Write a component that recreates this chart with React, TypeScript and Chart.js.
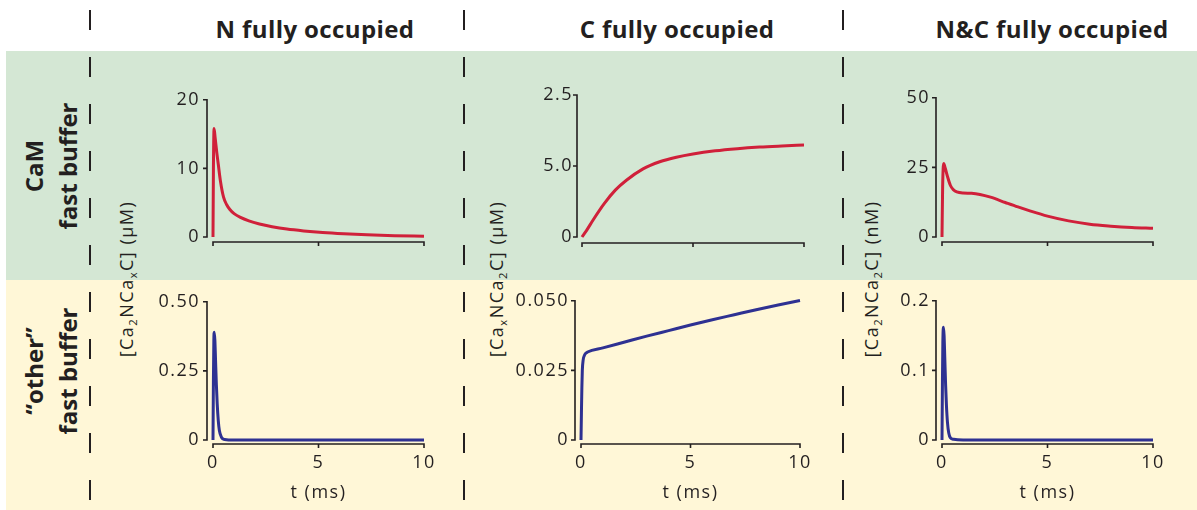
import React, { useEffect, useRef } from 'react';
import { Chart, registerables } from 'chart.js';

Chart.register(...registerables);

// ---------- data ----------
const columnTitles = ['N fully occupied', 'C fully occupied', 'N&C fully occupied'];
const rowTitles = [['CaM', 'fast buffer'], ['\u201Cother\u201D', 'fast buffer']];
const timeTicks = [0, 5, 10];
const timeTickLabels = ['0', '5', '10'];
const xAxisTitle = 't (ms)';

// CaM fast buffer, N fully occupied  (µM)
const camNTime = [0, 0.02, 0.05, 0.1, 0.18, 0.25, 0.35, 0.5, 0.65, 0.8, 1.0, 1.3, 1.7, 2.2, 2.8, 3.5, 4.3, 5.2, 6.2, 7.3, 8.6, 10];
const camNValues = [0, 10, 15.8, 14.5, 12.3, 10.6, 8.2, 5.8, 4.7, 4.0, 3.4, 2.85, 2.35, 1.9, 1.5, 1.15, 0.88, 0.65, 0.47, 0.32, 0.2, 0.12];
const camNYTicks = [0, 10, 20];
const camNYTickLabels = ['0', '10', '20'];

// CaM fast buffer, C fully occupied  (µM)
const camCTime = [0, 0.2, 0.5, 1.0, 1.5, 2.0, 2.75, 3.5, 4.25, 5, 6, 7, 8, 9, 10];
const camCValues = [0, 0.45, 1.2, 2.35, 3.3, 4.0, 4.8, 5.3, 5.62, 5.85, 6.07, 6.22, 6.33, 6.41, 6.48];
const camCYTicks = [0, 5, 10];
const camCYTickLabels = ['0', '5.0', '2.5'];

// CaM fast buffer, N&C fully occupied  (nM)
const camNCTime = [0, 0.03, 0.08, 0.15, 0.25, 0.4, 0.55, 0.7, 1.0, 1.4, 1.8, 2.3, 3.0, 3.6, 4.2, 5.0, 6.0, 7.0, 8.0, 9.0, 10];
const camNCValues = [0, 18, 26.4, 24.8, 22, 18.5, 16.9, 16.2, 15.8, 15.7, 15.3, 14.3, 12.4, 10.8, 9.3, 7.5, 5.8, 4.6, 3.9, 3.4, 3.1];
const camNCYTicks = [0, 25, 50];
const camNCYTickLabels = ['0', '25', '50'];

// "other" fast buffer, N fully occupied
const othNTime = [0, 0.02, 0.04, 0.06, 0.09, 0.12, 0.16, 0.2, 0.25, 0.3, 0.4, 0.55, 1, 2, 5, 10];
const othNValues = [0, 0.22, 0.36, 0.39, 0.36, 0.29, 0.2, 0.13, 0.07, 0.035, 0.01, 0.002, 0, 0, 0, 0];
const othNYTicks = [0, 0.25, 0.5];
const othNYTickLabels = ['0', '0.25', '0.50'];

// "other" fast buffer, C fully occupied
const othCTime = [0, 0.02, 0.04, 0.06, 0.1, 0.15, 0.2, 0.3, 1, 2, 3, 4, 5, 6, 7, 8, 9, 10];
const othCValues = [0, 0.01, 0.019, 0.025, 0.0288, 0.0303, 0.031, 0.0316, 0.0331, 0.0352, 0.0373, 0.0393, 0.0413, 0.0432, 0.045, 0.0468, 0.0485, 0.0501];
const othCYTicks = [0, 0.025, 0.05];
const othCYTickLabels = ['0', '0.025', '0.050'];

// "other" fast buffer, N&C fully occupied
const othNCTime = [0, 0.02, 0.04, 0.07, 0.1, 0.13, 0.17, 0.21, 0.26, 0.32, 0.4, 0.55, 1, 2, 5, 10];
const othNCValues = [0, 0.08, 0.14, 0.162, 0.15, 0.12, 0.08, 0.05, 0.025, 0.01, 0.003, 0.001, 0, 0, 0, 0];
const othNCYTicks = [0, 0.1, 0.2];
const othNCYTickLabels = ['0', '0.1', '0.2'];

// ---------- style ----------
const FONT = '"Open Sans", "DejaVu Sans", sans-serif';
const INK = '#231f20';
const RED = '#d0203a';
const BLUE = '#2e3192';
const GREEN_BG = '#d4e7d4';
const YELLOW_BG = '#fff7d7';
const TEXT_SPACING = '1.5px';

const spacing = {
  id: 'spacing',
  beforeUpdate(chart: any) {
    chart.ctx.letterSpacing = TEXT_SPACING;
  },
  beforeDraw(chart: any) {
    chart.ctx.letterSpacing = TEXT_SPACING;
  },
};

const detachedAxes = {
  id: 'detachedAxes',
  beforeDatasetsDraw(chart: any, _a: any, opts: any) {
    const { ctx } = chart;
    const xs = chart.scales.x;
    const ys = chart.scales.y;
    const xT: number[] = opts.xTicks;
    const yT: number[] = opts.yTicks;
    const left = xs.getPixelForValue(xT[0]);
    const right = xs.getPixelForValue(xT[xT.length - 1]);
    const bottom = ys.getPixelForValue(yT[0]);
    const top = ys.getPixelForValue(yT[yT.length - 1]);
    const ax = left - opts.yGap;
    const ay = bottom + opts.xGap;
    ctx.save();
    ctx.strokeStyle = INK;
    ctx.lineWidth = 1.6;
    ctx.beginPath();
    ctx.moveTo(ax, top - 0.8);
    ctx.lineTo(ax, bottom + 0.8);
    yT.forEach((v) => {
      const py = ys.getPixelForValue(v);
      ctx.moveTo(ax + 0.8, py);
      ctx.lineTo(ax - 4, py);
    });
    ctx.moveTo(left - 0.8, ay);
    ctx.lineTo(right + 0.8, ay);
    xT.forEach((v) => {
      const px = xs.getPixelForValue(v);
      ctx.moveTo(px, ay - 0.8);
      ctx.lineTo(px, ay + 4);
    });
    ctx.stroke();
    ctx.restore();
  },
};

type PanelProps = {
  time: number[];
  values: number[];
  color: string;
  yTicks: number[];
  yTickLabels: string[];
  showX: boolean;
  box: { x0: number; x1: number; yTop: number; y0: number };
  labelPad: number;
  yGap: number;
  xGap: number;
};

const PAD_L = 90;
const PAD_T = 20;
const PAD_R = 25;
const PAD_B = 70;

function Panel(p: PanelProps) {
  const ref = useRef<HTMLCanvasElement | null>(null);
  const w = p.box.x1 - p.box.x0 + PAD_L + PAD_R;
  const h = p.box.y0 - p.box.yTop + PAD_T + PAD_B;
  useEffect(() => {
    if (!ref.current) return;
    const tickFont = { family: FONT, size: 18 };
    const chart = new Chart(ref.current, {
      type: 'line',
      data: {
        datasets: [
          {
            data: p.time.map((t, i) => ({ x: t, y: p.values[i] })),
            borderColor: p.color,
            borderWidth: 3,
            pointRadius: 0,
            fill: false,
            cubicInterpolationMode: 'monotone',
            clip: false,
          } as any,
        ],
      },
      options: {
        animation: false,
        responsive: false,
        maintainAspectRatio: false,
        devicePixelRatio: 1,
        layout: { padding: { left: 0, top: PAD_T, right: PAD_R, bottom: 0 } },
        plugins: {
          legend: { display: false },
          tooltip: { enabled: false },
          detachedAxes: { xTicks: timeTicks, yTicks: p.yTicks, yGap: p.yGap, xGap: p.xGap },
        } as any,
        scales: {
          x: {
            type: 'linear',
            min: timeTicks[0],
            max: timeTicks[timeTicks.length - 1],
            afterBuildTicks: (s: any) => {
              s.ticks = timeTicks.map((v) => ({ value: v }));
            },
            afterFit: (s: any) => {
              s.height = PAD_B;
            },
            grid: { display: false, drawTicks: false },
            border: { display: false },
            ticks: {
              display: p.showX,
              padding: 12,
              maxRotation: 0,
              autoSkip: false,
              font: tickFont,
              color: INK,
              callback: (_v: any, i: number) => timeTickLabels[i],
            },
            title: {
              display: p.showX,
              text: xAxisTitle,
              font: tickFont,
              color: INK,
              padding: { top: 0, bottom: 6 },
            },
          },
          y: {
            type: 'linear',
            min: p.yTicks[0],
            max: p.yTicks[p.yTicks.length - 1],
            afterBuildTicks: (s: any) => {
              s.ticks = p.yTicks.map((v) => ({ value: v }));
            },
            afterFit: (s: any) => {
              s.width = PAD_L;
            },
            grid: { display: false, drawTicks: false },
            border: { display: false },
            ticks: {
              padding: p.labelPad,
              autoSkip: false,
              font: tickFont,
              color: INK,
              callback: (_v: any, i: number) => p.yTickLabels[i],
            },
          },
        } as any,
      },
      plugins: [spacing as any, detachedAxes as any],
    });
    return () => chart.destroy();
  }, []);
  return (
    <canvas
      ref={ref}
      width={w}
      height={h}
      style={{ position: 'absolute', left: p.box.x0 - PAD_L, top: p.box.yTop - PAD_T, width: w, height: h }}
    />
  );
}

function RotLabel({ cx, cy, children, style }: any) {
  return (
    <div
      style={{
        position: 'absolute',
        left: cx,
        top: cy,
        transform: 'translate(-50%, -50%) rotate(-90deg)',
        whiteSpace: 'nowrap',
        textAlign: 'center',
        color: INK,
        fontFamily: FONT,
        ...style,
      }}
    >
      {children}
    </div>
  );
}

const subStyle: React.CSSProperties = { fontSize: '0.62em', lineHeight: 0, verticalAlign: '-0.35em' };
const axisLabelStyle = { fontSize: 18, lineHeight: '18px', letterSpacing: TEXT_SPACING };

export default function App() {
  const dashXs = [89.5, 463.5, 842.5];
  const titleXs = [315, 677, 1052];
  return (
    <div
      style={{
        position: 'absolute',
        left: 0,
        top: 0,
        width: 1197,
        height: 510,
        overflow: 'hidden',
        background: '#ffffff',
        fontFamily: FONT,
      }}
    >
      <div style={{ position: 'absolute', left: 6, top: 51, width: 1191, height: 229, background: GREEN_BG }} />
      <div style={{ position: 'absolute', left: 6, top: 280, width: 1191, height: 230, background: YELLOW_BG }} />
      {dashXs.map((x, i) => (
        <div
          key={i}
          style={{
            position: 'absolute',
            left: x - 1,
            top: 10,
            width: 2,
            height: 500,
            background: `repeating-linear-gradient(to bottom, ${INK} 0px, ${INK} 20px, transparent 20px, transparent 47px)`,
          }}
        />
      ))}
      {columnTitles.map((t, i) => (
        <div
          key={i}
          style={{
            position: 'absolute',
            left: titleXs[i],
            top: 17,
            transform: 'translateX(-50%)',
            fontSize: 24,
            lineHeight: '24px',
            letterSpacing: '0.4px',
            fontWeight: 700,
            whiteSpace: 'nowrap',
            color: INK,
          }}
        >
          {t}
        </div>
      ))}
      {rowTitles.map((lines, i) => (
        <RotLabel key={i} cx={51} cy={i === 0 ? 166 : 371} style={{ fontSize: 24, fontWeight: 700, lineHeight: '34px' }}>
          {lines[0]}
          <br />
          {lines[1]}
        </RotLabel>
      ))}
      <RotLabel cx={126} cy={279} style={axisLabelStyle}>
        [Ca<sub style={subStyle}>2</sub>NCa<sub style={subStyle}>x</sub>C] (µM)
      </RotLabel>
      <RotLabel cx={496} cy={279} style={axisLabelStyle}>
        [Ca<sub style={subStyle}>x</sub>NCa<sub style={subStyle}>2</sub>C] (µM)
      </RotLabel>
      <RotLabel cx={871} cy={279} style={axisLabelStyle}>
        [Ca<sub style={subStyle}>2</sub>NCa<sub style={subStyle}>2</sub>C] (nM)
      </RotLabel>

      <Panel time={camNTime} values={camNValues} color={RED} yTicks={camNYTicks} yTickLabels={camNYTickLabels}
        showX={false} box={{ x0: 213, x1: 424, yTop: 96, y0: 237 }} labelPad={13} yGap={6} xGap={5} />
      <Panel time={camCTime} values={camCValues} color={RED} yTicks={camCYTicks} yTickLabels={camCYTickLabels}
        showX={false} box={{ x0: 582, x1: 804, yTop: 95, y0: 237 }} labelPad={9} yGap={5} xGap={6} />
      <Panel time={camNCTime} values={camNCValues} color={RED} yTicks={camNCYTicks} yTickLabels={camNCYTickLabels}
        showX={false} box={{ x0: 942, x1: 1153, yTop: 95, y0: 237 }} labelPad={12} yGap={6} xGap={5} />
      <Panel time={othNTime} values={othNValues} color={BLUE} yTicks={othNYTicks} yTickLabels={othNYTickLabels}
        showX={true} box={{ x0: 213, x1: 424, yTop: 298, y0: 440 }} labelPad={13} yGap={6} xGap={4} />
      <Panel time={othCTime} values={othCValues} color={BLUE} yTicks={othCYTicks} yTickLabels={othCYTickLabels}
        showX={true} box={{ x0: 581, x1: 800, yTop: 298, y0: 440 }} labelPad={12} yGap={6} xGap={4} />
      <Panel time={othNCTime} values={othNCValues} color={BLUE} yTicks={othNCYTicks} yTickLabels={othNCYTickLabels}
        showX={true} box={{ x0: 942, x1: 1153, yTop: 298, y0: 440 }} labelPad={12} yGap={6} xGap={4} />
    </div>
  );
}
